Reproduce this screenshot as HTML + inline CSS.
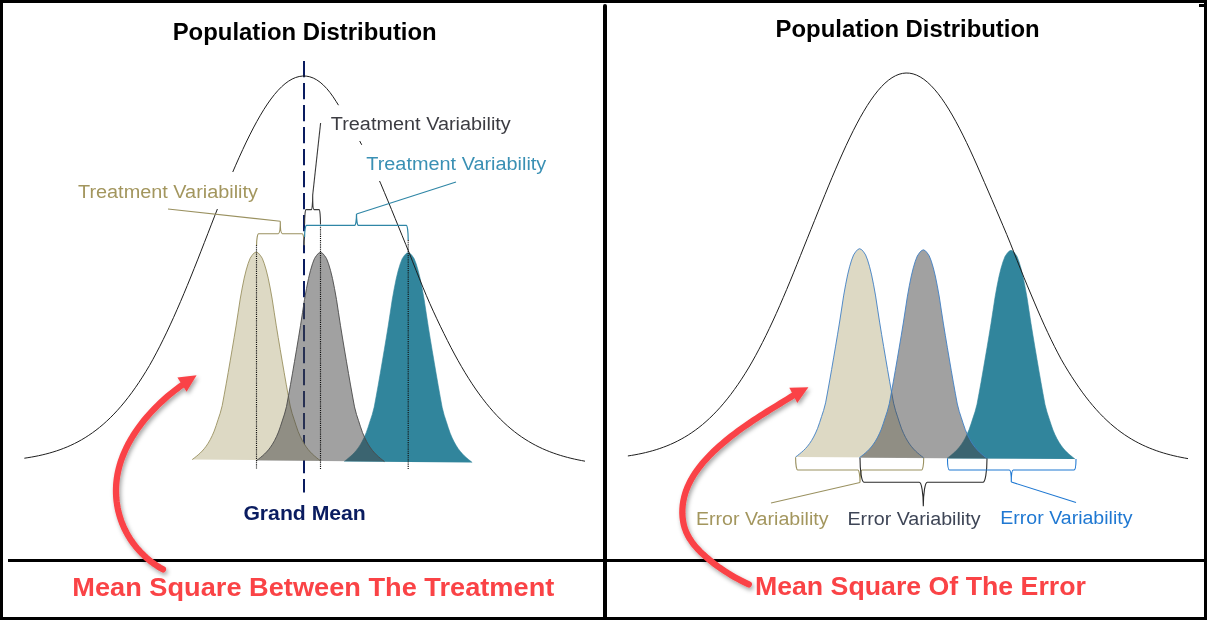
<!DOCTYPE html>
<html lang="en"><head><meta charset="utf-8"><title>Mean Square Between The Treatment / Mean Square Of The Error</title>
<style>
html,body{margin:0;padding:0;background:#fff;}
body{width:1207px;height:620px;overflow:hidden;}
svg{display:block;}
text{font-family:"Liberation Sans",sans-serif;}
.b{font-weight:bold;}
</style></head><body>
<svg width="1207" height="620" viewBox="0 0 1207 620">
<defs>
<filter id="sh" x="-20%" y="-20%" width="150%" height="150%"><feDropShadow dx="1.6" dy="2.6" stdDeviation="2.2" flood-color="#000" flood-opacity="0.36"/></filter>
</defs>
<rect x="0" y="0" width="1207" height="620" fill="#fff"/>

<g id="left">
<line x1="304" y1="61" x2="304" y2="492.5" stroke="#0a1c60" stroke-width="2" stroke-dasharray="16.2 5.8"/>
<path d="M344.2,461.4 L346.2,459.89 L348.2,458.28 L350.2,456.62 L352.2,454.82 L354.2,452.8 L356.2,450.51 L358.2,447.9 L360.2,444.88 L362.2,441.37 L364.2,437.34 L366.2,432.7 L368.2,426.96 L370.2,420.78 L372.2,414.73 L374.2,407.12 L376.2,396.29 L378.2,385.2 L380.2,373.73 L382.2,362.05 L384.2,350.26 L386.2,338.28 L388.2,326.04 L390.2,313.02 L392.2,299.84 L394.2,288.73 L396.2,278.77 L398.2,270.61 L400.2,263.92 L402.2,258.73 L404.2,255.71 L406.2,253.44 L408.2,252.5 L410.2,253.44 L412.2,255.71 L414.2,258.73 L416.2,263.93 L418.2,270.63 L420.2,278.8 L422.2,288.77 L424.2,299.9 L426.2,313.1 L428.2,326.15 L430.2,338.43 L432.2,350.44 L434.2,362.26 L436.2,373.99 L438.2,385.5 L440.2,396.63 L442.2,407.51 L444.2,415.17 L446.2,421.26 L448.2,427.49 L450.2,433.27 L452.2,437.95 L454.2,442.02 L456.2,445.57 L458.2,448.63 L460.2,451.28 L462.2,453.61 L464.2,455.67 L466.2,457.5 L468.2,459.2 L470.2,460.85 L472.2,462.4" fill="#31859c" stroke="#31859c" stroke-width="0.6"/>
<path d="M192.2,459.6 L194.2,458.1 L196.2,456.5 L198.2,454.85 L200.2,453.06 L202.2,451.06 L204.2,448.78 L206.2,446.18 L208.2,443.18 L210.2,439.69 L212.2,435.69 L214.2,431.08 L216.2,425.38 L218.2,419.23 L220.2,413.22 L222.2,405.66 L224.2,394.9 L226.2,383.88 L228.2,372.48 L230.2,360.87 L232.2,349.15 L234.2,337.25 L236.2,325.08 L238.2,312.15 L240.2,299.05 L242.2,288.01 L244.2,278.11 L246.2,270 L248.2,263.35 L250.2,258.19 L252.2,255.19 L254.2,252.93 L256.2,252 L258.2,252.93 L260.2,255.19 L262.2,258.2 L264.2,263.36 L266.2,270.02 L268.2,278.14 L270.2,288.04 L272.2,299.11 L274.2,312.23 L276.2,325.19 L278.2,337.39 L280.2,349.33 L282.2,361.08 L284.2,372.73 L286.2,384.17 L288.2,395.24 L290.2,406.05 L292.2,413.66 L294.2,419.71 L296.2,425.9 L298.2,431.65 L300.2,436.3 L302.2,440.34 L304.2,443.87 L306.2,446.91 L308.2,449.55 L310.2,451.87 L312.2,453.91 L314.2,455.73 L316.2,457.42 L318.2,459.06 L320.2,460.6" fill="#ddd9c4" stroke="#9a9160" stroke-width="0.9"/>
<path d="M256.5,460.6 L258.5,459.09 L260.5,457.49 L262.5,455.83 L264.5,454.04 L266.5,452.03 L268.5,449.74 L270.5,447.13 L272.5,444.13 L274.5,440.63 L276.5,436.61 L278.5,431.98 L280.5,426.26 L282.5,420.1 L284.5,414.06 L286.5,406.48 L288.5,395.68 L290.5,384.62 L292.5,373.19 L294.5,361.53 L296.5,349.78 L298.5,337.84 L300.5,325.62 L302.5,312.65 L304.5,299.51 L306.5,288.43 L308.5,278.5 L310.5,270.36 L312.5,263.69 L314.5,258.51 L316.5,255.5 L318.5,253.23 L320.5,252.3 L322.5,253.23 L324.5,255.51 L326.5,258.52 L328.5,263.69 L330.5,270.38 L332.5,278.52 L334.5,288.46 L336.5,299.57 L338.5,312.73 L340.5,325.73 L342.5,337.98 L344.5,349.95 L346.5,361.75 L348.5,373.44 L350.5,384.92 L352.5,396.02 L354.5,406.87 L356.5,414.5 L358.5,420.57 L360.5,426.78 L362.5,432.55 L364.5,437.21 L366.5,441.28 L368.5,444.82 L370.5,447.86 L372.5,450.51 L374.5,452.84 L376.5,454.89 L378.5,456.72 L380.5,458.41 L382.5,460.06 L384.5,461.6" fill="#454545" fill-opacity="0.505" stroke="#4a4a4a" stroke-width="0.9"/>
<path d="M24.33,458.22 L27.89,457.68 L31.45,457.09 L35.02,456.43 L38.59,455.71 L42.16,454.92 L45.74,454.05 L49.31,453.1 L52.89,452.06 L56.48,450.92 L60.06,449.69 L63.65,448.34 L67.24,446.88 L70.83,445.3 L74.42,443.59 L78.01,441.75 L81.6,439.75 L85.19,437.61 L88.78,435.31 L92.37,432.84 L95.96,430.2 L99.55,427.37 L103.13,424.36 L106.71,421.15 L110.29,417.75 L113.87,414.13 L117.44,410.3 L121.01,406.25 L124.58,401.98 L128.14,397.48 L131.7,392.75 L135.26,387.78 L138.82,382.57 L142.37,377.13 L145.92,371.45 L149.47,365.52 L152.94,359.31 L156.4,352.87 L159.86,346.2 L163.31,339.3 L166.75,332.18 L170.19,324.85 L173.63,317.32 L177.06,309.59 L180.49,301.68 L183.92,293.6 L187.34,285.37 L190.75,277 L194.16,268.5 L197.58,259.9 L200.98,251.22 L204.39,242.48 L207.8,233.69 L211.21,224.89 L214.61,216.1 L218.06,207.35 L221.58,198.7 L225.11,190.13 L228.64,181.67 L232.17,173.36 L235.7,165.21 L239.23,157.26 L242.75,149.53 L246.28,142.06 L249.81,134.86 L253.34,127.97 L256.87,121.42 L260.4,115.22 L263.92,109.4 L267.45,103.99 L270.98,99 L274.51,94.46 L278.04,90.39 L281.57,86.8 L285.09,83.7 L288.62,81.11 L292.15,79.04 L295.68,77.5 L299.21,76.5 L302.74,76.03 L306.26,76.12 L309.78,76.79 L313.26,78.04 L316.69,79.85 L320.08,82.21 L323.41,85.11 L326.7,88.51 L329.93,92.41 L333.11,96.8 L336.25,101.65 L339.5,106.84 L343.14,112.21 L346.79,117.98 L350.47,124.15 L354.17,130.67 L357.88,137.52 L361.63,144.67 L365.47,152.05 L369.32,159.69 L373.19,167.55 L377.07,175.6 L380.83,183.86 L384.39,192.34 L387.96,200.92 L391.52,209.58 L395.08,218.29 L398.65,227.03 L402.21,235.76 L405.77,244.47 L409.3,253.15 L412.7,261.81 L416.09,270.38 L419.49,278.84 L422.89,287.18 L426.3,295.36 L429.75,303.37 L433.28,311.17 L436.81,318.78 L440.34,326.2 L443.87,333.4 L447.4,340.48 L450.92,347.37 L454.45,354.03 L457.98,360.46 L461.51,366.65 L465.04,372.6 L468.57,378.31 L472.09,383.77 L475.62,389 L479.15,393.98 L482.68,398.73 L486.21,403.25 L489.74,407.54 L493.26,411.61 L496.79,415.45 L500.32,419.09 L503.85,422.52 L507.38,425.75 L510.91,428.79 L514.43,431.65 L517.96,434.33 L521.49,436.83 L525.02,439.18 L528.55,441.37 L532.08,443.41 L535.6,445.32 L539.13,447.09 L542.66,448.74 L546.19,450.27 L549.72,451.69 L553.25,453.01 L556.77,454.22 L560.3,455.35 L563.83,456.4 L567.36,457.36 L570.89,458.25 L574.42,459.08 L577.94,459.84 L581.47,460.54 L585,461.19" fill="none" stroke="#1e1e1e" stroke-width="1"/>
<rect x="326" y="105.2" width="192" height="35.8" fill="#fff"/>
<rect x="361" y="145" width="192" height="36" fill="#fff"/>
<rect x="72" y="172" width="192" height="37" fill="#fff"/>
<line x1="256.5" y1="245" x2="256.5" y2="469" stroke="#111" stroke-width="1.15" stroke-dasharray="1.15 1"/>
<line x1="320.5" y1="225" x2="320.5" y2="469" stroke="#111" stroke-width="1.15" stroke-dasharray="1.15 1"/>
<line x1="408.2" y1="240" x2="408.2" y2="469" stroke="#111" stroke-width="1.15" stroke-dasharray="1.15 1"/>
<path d="M256.6,245.3 A2,11.6 0 0 1 258.6,233.7 L278.3,233.7 A2,12.4 0 0 0 280.3,221.3 A2,12.4 0 0 0 282.3,233.7 L302.2,233.7 A2,11.6 0 0 1 304.2,245.3" fill="none" stroke="#9a9160" stroke-width="1.1"/>
<path d="M280.3,221.3 L168,209" fill="none" stroke="#9a9160" stroke-width="1.1"/>
<path d="M304.6,224.5 A1.4,14.9 0 0 1 306,209.6 L311.3,209.6 A1.4,14.6 0 0 0 312.7,195 A1.4,14.6 0 0 0 314.1,209.6 L319.1,209.6 A1.4,14.9 0 0 1 320.5,224.5" fill="none" stroke="#3a3a3a" stroke-width="1.1"/>
<path d="M312.7,195 L320.6,123" fill="none" stroke="#3a3a3a" stroke-width="1.1"/>
<path d="M304.6,237 A1.9,11.6 0 0 1 306.5,225.4 L354.6,225.4 A1.9,11.4 0 0 0 356.5,214 A1.9,11.4 0 0 0 358.4,225.4 L406.3,225.4 A1.9,14.6 0 0 1 408.2,240" fill="none" stroke="#2f86a6" stroke-width="1.2"/>
<path d="M356.5,214 L456,182" fill="none" stroke="#2f86a6" stroke-width="1.2"/>
<text class="b" x="172.7" y="40.3" font-size="23.5" fill="#000" textLength="264" lengthAdjust="spacingAndGlyphs">Population Distribution</text>
<text x="330.8" y="129.8" font-size="18" fill="#3c3c42" textLength="180" lengthAdjust="spacingAndGlyphs">Treatment Variability</text>
<text x="366.3" y="169.5" font-size="18" fill="#3a90b4" textLength="180" lengthAdjust="spacingAndGlyphs">Treatment Variability</text>
<text x="78" y="198" font-size="18" fill="#a3965e" textLength="180" lengthAdjust="spacingAndGlyphs">Treatment Variability</text>
<text class="b" x="243.4" y="519.9" font-size="21" fill="#0a1c60" textLength="122.4" lengthAdjust="spacingAndGlyphs">Grand Mean</text>
</g>
<g id="right">
<path d="M947,458.4 L949,456.89 L951,455.28 L953,453.62 L955,451.82 L957,449.81 L959,447.52 L961,444.91 L963,441.9 L965,438.4 L967,434.37 L969,429.75 L971,424.03 L973,417.87 L975,411.84 L977,404.26 L979,393.47 L981,382.43 L983,371 L985,359.37 L987,347.63 L989,335.7 L991,323.51 L993,310.55 L995,297.43 L997,286.37 L999,276.45 L1001,268.33 L1003,261.67 L1005,256.5 L1007,253.5 L1009,251.23 L1011,250.3 L1013,251.23 L1015,253.5 L1017,256.5 L1019,261.67 L1021,268.34 L1023,276.47 L1025,286.39 L1027,297.46 L1029,310.6 L1031,323.57 L1033,335.79 L1035,347.73 L1037,359.49 L1039,371.16 L1041,382.6 L1043,393.68 L1045,404.5 L1047,412.1 L1049,418.16 L1051,424.35 L1053,430.09 L1055,434.74 L1057,438.78 L1059,442.31 L1061,445.34 L1063,447.98 L1065,450.29 L1067,452.33 L1069,454.15 L1071,455.83 L1073,457.47 L1075,459" fill="#31859c" stroke="#31859c" stroke-width="0.6"/>
<path d="M795.6,457 L797.6,455.49 L799.6,453.88 L801.6,452.22 L803.6,450.43 L805.6,448.41 L807.6,446.13 L809.6,443.51 L811.6,440.5 L813.6,437 L815.6,432.98 L817.6,428.35 L819.6,422.63 L821.6,416.46 L823.6,410.43 L825.6,402.84 L827.6,392.04 L829.6,380.99 L831.6,369.55 L833.6,357.9 L835.6,346.15 L837.6,334.21 L839.6,322 L841.6,309.03 L843.6,295.89 L845.6,284.81 L847.6,274.89 L849.6,266.76 L851.6,260.08 L853.6,254.91 L855.6,251.9 L857.6,249.63 L859.6,248.7 L861.6,249.63 L863.6,251.9 L865.6,254.91 L867.6,260.09 L869.6,266.77 L871.6,274.91 L873.6,284.84 L875.6,295.94 L877.6,309.09 L879.6,322.09 L881.6,334.32 L883.6,346.29 L885.6,358.07 L887.6,369.76 L889.6,381.22 L891.6,392.32 L893.6,403.16 L895.6,410.78 L897.6,416.85 L899.6,423.05 L901.6,428.81 L903.6,433.47 L905.6,437.52 L907.6,441.06 L909.6,444.1 L911.6,446.74 L913.6,449.06 L915.6,451.11 L917.6,452.93 L919.6,454.62 L921.6,456.26 L923.6,457.8" fill="#ddd9c4" stroke="#3f7fc4" stroke-width="0.9"/>
<path d="M859.3,457.8 L861.3,456.29 L863.3,454.69 L865.3,453.03 L867.3,451.24 L869.3,449.22 L871.3,446.94 L873.3,444.33 L875.3,441.33 L877.3,437.83 L879.3,433.81 L881.3,429.19 L883.3,423.48 L885.3,417.32 L887.3,411.3 L889.3,403.72 L891.3,392.94 L893.3,381.9 L895.3,370.48 L897.3,358.85 L899.3,347.11 L901.3,335.19 L903.3,322.99 L905.3,310.04 L907.3,296.92 L909.3,285.86 L911.3,275.95 L913.3,267.83 L915.3,261.17 L917.3,256 L919.3,253 L921.3,250.73 L923.3,249.8 L925.3,250.73 L927.3,253 L929.3,256 L931.3,261.17 L933.3,267.84 L935.3,275.97 L937.3,285.89 L939.3,296.97 L941.3,310.11 L943.3,323.08 L945.3,335.3 L947.3,347.25 L949.3,359.02 L951.3,370.68 L953.3,382.13 L955.3,393.21 L957.3,404.03 L959.3,411.65 L961.3,417.71 L963.3,423.9 L965.3,429.65 L967.3,434.3 L969.3,438.35 L971.3,441.88 L973.3,444.92 L975.3,447.56 L977.3,449.87 L979.3,451.92 L981.3,453.74 L983.3,455.42 L985.3,457.06 L987.3,458.6" fill="#454545" fill-opacity="0.505" stroke="#3f7fc4" stroke-width="0.9"/>
<path d="M627.88,455.96 L631.42,455.41 L634.96,454.8 L638.51,454.12 L642.05,453.38 L645.6,452.57 L649.15,451.68 L652.7,450.71 L656.25,449.65 L659.8,448.49 L663.35,447.23 L666.91,445.86 L670.47,444.38 L674.02,442.77 L677.58,441.03 L681.13,439.15 L684.69,437.13 L688.25,434.96 L691.8,432.62 L695.36,430.12 L698.92,427.44 L702.47,424.58 L706.02,421.53 L709.57,418.28 L713.12,414.83 L716.67,411.17 L720.22,407.3 L723.76,403.2 L727.31,398.88 L730.85,394.32 L734.39,389.53 L737.93,384.51 L741.47,379.24 L745,373.74 L748.54,367.99 L752.04,361.98 L755.52,355.73 L758.99,349.23 L762.46,342.51 L765.93,335.55 L769.39,328.38 L772.85,321 L776.3,313.41 L779.75,305.63 L783.2,297.67 L786.65,289.54 L790.1,281.26 L793.54,272.85 L796.98,264.31 L800.43,255.67 L803.89,246.97 L807.42,238.23 L810.94,229.46 L814.47,220.67 L817.99,211.9 L821.51,203.16 L825.04,194.49 L828.56,185.91 L832.09,177.45 L835.61,169.13 L839.13,160.99 L842.66,153.05 L846.18,145.35 L849.71,137.9 L853.23,130.73 L856.75,123.88 L860.28,117.37 L863.8,111.22 L867.33,105.46 L870.85,100.11 L874.37,95.19 L877.9,90.73 L881.42,86.73 L884.94,83.21 L888.47,80.2 L891.99,77.7 L895.52,75.73 L899.04,74.28 L902.56,73.37 L906.09,73.01 L909.61,73.18 L913.14,73.9 L916.67,75.15 L920.2,76.93 L923.74,79.23 L927.28,82.05 L930.83,85.38 L934.38,89.19 L937.94,93.48 L941.5,98.23 L945.07,103.42 L948.64,109.02 L952.21,115.02 L955.78,121.39 L959.36,128.11 L962.94,135.15 L966.53,142.48 L970.11,150.08 L973.7,157.92 L977.29,165.97 L980.88,174.21 L984.5,182.58 L988.2,191.06 L991.9,199.64 L995.6,208.29 L999.3,216.98 L1003,225.7 L1006.7,234.41 L1010.28,243.14 L1013.71,251.87 L1017.13,260.54 L1020.56,269.1 L1023.99,277.56 L1027.42,285.88 L1030.86,294.05 L1034.26,302.08 L1037.6,309.95 L1040.95,317.64 L1044.3,325.13 L1047.66,332.4 L1051.02,339.46 L1054.39,346.29 L1057.77,352.89 L1061.16,359.26 L1064.66,365.33 L1068.19,371.14 L1071.71,376.71 L1075.24,382.04 L1078.76,387.24 L1082.28,392.19 L1085.81,396.91 L1089.33,401.4 L1092.85,405.66 L1096.38,409.7 L1099.9,413.52 L1103.43,417.12 L1106.95,420.53 L1110.47,423.73 L1114,426.74 L1117.52,429.57 L1121.05,432.22 L1124.57,434.7 L1128.09,437.01 L1131.62,439.18 L1135.14,441.2 L1138.67,443.07 L1142.19,444.82 L1145.71,446.44 L1149.24,447.95 L1152.76,449.34 L1156.28,450.64 L1159.81,451.83 L1163.33,452.94 L1166.86,453.96 L1170.38,454.9 L1173.9,455.77 L1177.43,456.57 L1180.95,457.31 L1184.48,457.99 L1188,458.61" fill="none" stroke="#1e1e1e" stroke-width="1"/>
<path d="M795.6,457.3 A2.1,12.7 0 0 0 797.7,470 L857.9,470 A2.1,12.5 0 0 1 860,482.5 A2.1,12.5 0 0 1 862.1,470 L921.6,470 A2.1,12 0 0 0 923.7,458" fill="none" stroke="#9a9160" stroke-width="1.1"/>
<path d="M860,482.5 L771,503" fill="none" stroke="#9a9160" stroke-width="1.1"/>
<path d="M860,458 A4,24.3 0 0 0 864,482.3 L919.3,482.3 A4,24 0 0 1 923.3,506.3 A4,24 0 0 1 927.3,482.3 L983,482.3 A4,23.7 0 0 0 987,458.6" fill="none" stroke="#2a2a2a" stroke-width="1.1"/>
<path d="M947.5,458.6 A2,11.4 0 0 0 949.5,470 L1009.3,470 A2,12 0 0 1 1011.3,482 A2,12 0 0 1 1013.3,470 L1074,470 A2,11 0 0 0 1076,459" fill="none" stroke="#1f78d2" stroke-width="1.1"/>
<path d="M1011.3,482 L1076,502.5" fill="none" stroke="#1f78d2" stroke-width="1.1"/>
<text class="b" x="775.6" y="37.4" font-size="23.5" fill="#000" textLength="264" lengthAdjust="spacingAndGlyphs">Population Distribution</text>
<text x="696" y="524.7" font-size="18" fill="#a3965e" textLength="132.5" lengthAdjust="spacingAndGlyphs">Error Variability</text>
<text x="847.5" y="525" font-size="18" fill="#3e4556" textLength="133" lengthAdjust="spacingAndGlyphs">Error Variability</text>
<text x="1000.3" y="524.2" font-size="18" fill="#1f78d2" textLength="132.2" lengthAdjust="spacingAndGlyphs">Error Variability</text>
</g>
<g id="frame" fill="#000">
<rect x="0" y="0" width="1207" height="3"/>
<rect x="0" y="617" width="1207" height="3"/>
<rect x="0" y="0" width="3" height="620"/>
<rect x="1204" y="0" width="3" height="620"/>
<rect x="1199" y="4" width="6" height="3"/>
<rect x="8" y="559" width="1197" height="3"/>
<path d="M603,6 a2,2 0 0 1 4,0 V618 H603 Z"/>
</g>
<g id="arrows" filter="url(#sh)">
<path d="M162.92,569.35 L160.06,567.72 L157.27,565.99 L154.55,564.16 L151.89,562.23 L149.3,560.2 L146.79,558.07 L144.35,555.86 L142,553.57 L139.73,551.19 L137.54,548.73 L135.44,546.19 L133.44,543.58 L131.53,540.9 L129.72,538.16 L128.01,535.35 L126.4,532.48 L124.9,529.56 L123.52,526.58 L122.24,523.56 L121.08,520.49 L120.04,517.37 L119.12,514.22 L118.31,511.04 L117.63,507.82 L117.07,504.59 L116.62,501.34 L116.29,498.08 L116.09,494.81 L116,491.55 L116.02,488.29 L116.17,485.04 L116.43,481.8 L116.82,478.59 L117.31,475.39 L117.92,472.22 L118.63,469.07 L119.45,465.95 L120.37,462.85 L121.39,459.78 L122.5,456.73 L123.71,453.71 L125.01,450.72 L126.39,447.77 L127.85,444.84 L129.4,441.94 L131.02,439.08 L132.72,436.25 L134.49,433.46 L136.32,430.71 L138.22,427.99 L140.18,425.31 L142.21,422.67 L144.28,420.06 L146.41,417.5 L148.59,414.99 L150.81,412.51 L153.08,410.08 L155.39,407.7 L157.73,405.36 L160.11,403.07 L162.52,400.83 L164.96,398.63 L167.42,396.49 L169.9,394.4 L172.41,392.36 L174.92,390.37 L177.46,388.44 L180,386.56 L182.54,384.74" fill="none" stroke="#fa4346" stroke-width="6.3" stroke-linecap="round" stroke-linejoin="round"/>
<path d="M196.6,375.3 L177.4,377.6 L186.6,391.7 Z" fill="#fa4346"/>
<path d="M748.78,584.4 L745.16,582.65 L741.61,580.86 L738.12,579.03 L734.69,577.14 L731.31,575.19 L727.99,573.18 L724.72,571.1 L721.49,568.95 L718.3,566.72 L715.16,564.41 L712.05,562 L708.97,559.51 L705.92,556.91 L702.93,554.21 L700.02,551.41 L697.23,548.49 L694.6,545.46 L692.15,542.32 L689.92,539.05 L687.95,535.67 L686.26,532.15 L684.89,528.51 L683.81,524.77 L683.04,520.94 L682.55,517.06 L682.34,513.14 L682.39,509.21 L682.7,505.28 L683.26,501.39 L684.06,497.56 L685.08,493.8 L686.31,490.11 L687.75,486.5 L689.38,482.97 L691.19,479.51 L693.16,476.12 L695.29,472.81 L697.56,469.57 L699.96,466.4 L702.47,463.3 L705.1,460.28 L707.81,457.32 L710.61,454.43 L713.47,451.61 L716.39,448.85 L719.36,446.17 L722.36,443.55 L725.39,440.99 L728.44,438.49 L731.51,436.05 L734.62,433.66 L737.74,431.31 L740.89,429.01 L744.06,426.76 L747.26,424.54 L750.47,422.35 L753.7,420.19 L756.96,418.05 L760.23,415.94 L763.52,413.85 L766.83,411.76 L770.15,409.69 L773.49,407.63 L776.85,405.56 L780.22,403.5 L783.6,401.43 L787,399.35 L790.41,397.25 L793.83,395.14" fill="none" stroke="#fa4346" stroke-width="6.3" stroke-linecap="round" stroke-linejoin="round"/>
<path d="M808.4,387.3 L789.3,387.8 L797.3,402.9 Z" fill="#fa4346"/>
</g>
<text class="b" x="72.3" y="595.8" font-size="25.2" fill="#fa4346" textLength="482" lengthAdjust="spacingAndGlyphs">Mean Square Between The Treatment</text>
<text class="b" x="754.9" y="595.4" font-size="25.2" fill="#fa4346" textLength="331" lengthAdjust="spacingAndGlyphs">Mean Square Of The Error</text>
</svg></body></html>
